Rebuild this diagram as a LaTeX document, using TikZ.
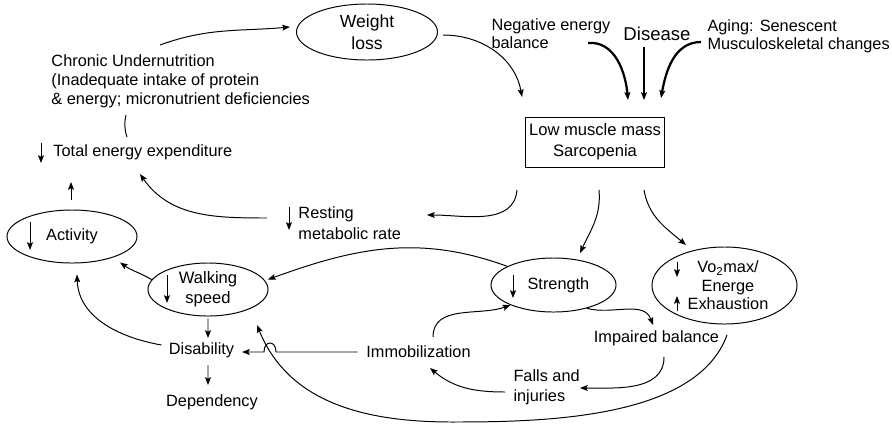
\documentclass[tikz,border=0pt]{standalone}
\usepackage{fontspec}
\setmainfont{Liberation Sans}
\usetikzlibrary{shapes.geometric,arrows.meta,calc}
\begin{document}
\begin{tikzpicture}[x=0.025cm,y=0.025cm,line width=0.7pt,
 every node/.style={font=\fontsize{11.6}{13.5}\selectfont,inner sep=0pt,align=left},
 oval/.style={ellipse,draw,align=center},
 arr/.style={-{Stealth[length=5.5pt,width=4.2pt,inset=1pt]}},
 fat/.style={arr,line width=1.6pt}]
\useasboundingbox(0,0)rectangle(892,424);
\node[oval,minimum width=3.525cm,minimum height=1.4cm,font=\fontsize{12.5}{16}\selectfont](weight)at(367,392){Weight\\loss};
\node[anchor=west](chronic)at(51,343){Chronic Undernutrition\\(Inadequate intake of protein\\\& energy; micronutrient deficiencies};
\node[anchor=west](tee)at(53,272){Total energy expenditure};
\node[anchor=west,font=\fontsize{11.6}{14.5}\selectfont](resting)at(298,201){Resting\\metabolic rate};
\node[anchor=west,font=\fontsize{11.6}{13}\selectfont](neg)at(491,390){Negative energy\\balance};
\node[font=\fontsize{13.2}{15}\selectfont](disease)at(657,390){Disease};
\node[anchor=west,font=\fontsize{11.6}{13}\selectfont](aging)at(707,388){Aging: Senescent\\Musculoskeletal changes};
\node[draw,minimum width=3.45cm,minimum height=1.25cm,align=center,font=\fontsize{11.8}{15}\selectfont](box)at(595,282){Low muscle mass\\Sarcopenia};
\node[oval,minimum width=3.25cm,minimum height=1.325cm](activity)at(72,187.5){Activity};
\node[oval,minimum width=3cm,minimum height=1.325cm,font=\fontsize{11.8}{14}\selectfont](walking)at(208,134.5){Walking\\speed};
\node[oval,minimum width=3.125cm,minimum height=1.35cm](strength)at(553.5,139){\hspace{7pt}Strength};
\node[oval,minimum width=3.625cm,minimum height=1.925cm,font=\fontsize{11.6}{13.2}\selectfont](vo2)at(724.5,138.5){\hspace{5pt}Vo\textsubscript{2}max/\\\hspace{5pt}Energe\\\hspace{5pt}Exhaustion};
\node(disability)at(201.5,74){Disability};
\node(dependency)at(212,22){Dependency};
\node(immob)at(418.5,72){Immobilization};
\node(impaired)at(656.5,86){Impaired balance};
\node[anchor=west,font=\fontsize{11.6}{14}\selectfont](falls)at(513,37){Falls and\\injuries};
\coordinate(bot)at(452,2);
\draw[arr]($(tee.west)+(-12,9)$)--++(0,-20);
\draw[arr]($(resting.west)+(-9,16)$)--++(0,-23);
\draw[arr]($(activity.center)+(-42,14.5)$)--++(0,-28);
\draw[arr]($(walking.center)+(-41,14.5)$)--++(0,-28);
\draw[arr]($(strength.center)+(-40.5,10)$)--++(0,-23);
\draw[arr]($(vo2.center)+(-47.5,23.5)$)--++(0,-15);
\draw[arr]($(vo2.center)+(-47.5,-25.5)$)--++(0,15);
\draw[arr]($(chronic.west)+(109,36)$)to[out=20,in=185]($(weight.center)+(-77,5)$);
\draw($(tee.west)+(74,15)$)to[bend left=15]($(chronic.west)+(75,-34)$);
\draw[arr]($(weight.center)+(76,-3)$)to[out=0,in=100]($(box.center)+(-73,45)$);
\draw[fat]($(neg.west)+(97,-9)$)to[out=5,in=95]($(box.center)+(33,42)$);
\draw[fat,line width=2pt]($(disease.center)+(-13,-13)$)--($(disease.center)+(-13,-66)$);
\draw[fat]($(aging.west)+(-6,-6)$)to[out=180,in=80]($(box.center)+(66,44)$);
\draw[arr]($(box.center)+(-78,-48)$)to[out=-95,in=0]($(resting.west)+(129,8)$);
\draw[arr]($(resting.west)+(-31,5)$)to[out=180,in=-55]($(tee.west)+(87,-22)$);
\draw[arr]($(activity.center)+(-1,37)$)--($(tee.west)+(18,-30)$);
\draw[arr]($(box.center)+(4,-48)$)to[out=-85,in=65]($(strength.center)+(26.5,32)$);
\draw[arr]($(box.center)+(49,-48)$)to[out=-80,in=140]($(vo2.center)+(-38.5,40.5)$);
\draw[arr](strength.158)to[out=160,in=20]($(walking.center)+(60,10)$);
\draw[arr](walking.170)to[out=150,in=-35]($(activity.center)+(48,-26)$);
\draw[arr]($(walking.south)+(0,-2)$)--($(disability.center)+(6.5,12)$);
\draw[arr]($(disability.center)+(6.5,-15)$)--($(dependency.center)+(-4,17)$);
\draw[arr]($(disability.center)+(-40,5)$)to[out=170,in=-88]($(activity.center)+(5,-38)$);
\draw[arr]($(immob.center)+(-61,0)$)--($(disability.center)+(74.5,-2)$)..controls+(0,12)and+(0,12)..($(disability.center)+(62.5,-2)$)--($(disability.center)+(40.5,-2)$);
\draw[arr]($(immob.center)+(14.5,15)$)to[out=90,in=200](strength.205);
\draw[arr](strength.-35)to[out=-15,in=110]($(impaired.center)+(-3.5,13)$);
\draw[arr]($(impaired.center)+(7.5,-19)$)to[out=-90,in=0]($(falls.west)+(67,-1)$);
\draw[arr]($(falls.west)+(-8,-5)$)to[out=180,in=-40]($(immob.center)+(11.5,-16)$);
\draw[arr]($(vo2.center)+(2.5,-49.5)$)to[out=-110,in=0,looseness=0.8](bot)to[out=180,in=-68]($(walking.center)+(49,-35.5)$);
\end{tikzpicture}
\end{document}
